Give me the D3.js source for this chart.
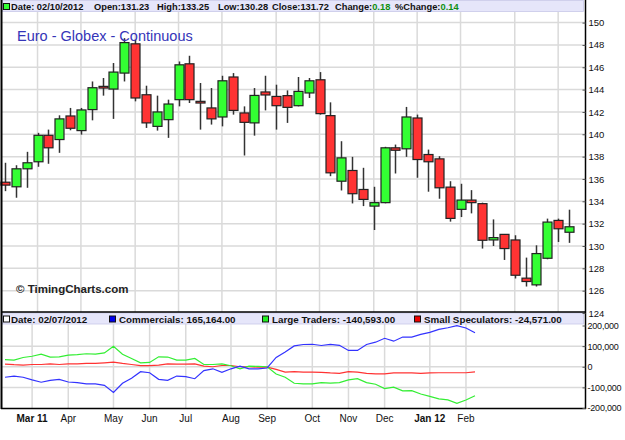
<!DOCTYPE html>
<html>
<head>
<meta charset="utf-8">
<script src="https://cdn.jsdelivr.net/npm/d3@7"></script>
<style>
  body { margin: 0; background: #fff; }
  text { font-family: Arial, "Liberation Sans", sans-serif; }
</style>
</head>
<body>
<svg id="chart" width="625" height="440"></svg>
<script>
// weekly candles, week ending Fri 02/11/2011 .. Fri 02/10/2012
var weeks = d3.timeFriday.range(new Date(2011, 1, 11), new Date(2012, 1, 11));

var openP  = [135.71,135.30,136.91,137.54,139.91,139.53,141.64,140.33,142.21,144.29,144.05,145.48,148.10,143.54,140.71,141.31,143.10,146.31,142.95,142.36,141.55,145.13,141.91,141.02,143.79,143.39,143.46,142.56,143.70,144.88,141.67,135.80,136.76,135.06,133.57,133.88,138.79,138.70,141.46,138.19,137.80,135.27,133.28,134.11,133.79,130.54,131.04,130.54,127.12,126.52,128.90,132.29,131.23];
var highP  = [137.45,137.23,138.43,140.13,140.42,141.70,142.36,142.36,144.73,145.04,146.38,148.61,148.46,144.35,143.46,143.10,146.52,147.03,144.59,144.14,145.24,145.48,142.50,144.14,145.24,144.44,143.93,145.13,145.04,145.57,142.86,139.38,137.98,137.00,135.30,138.88,139.08,142.45,141.76,138.63,138.04,135.80,135.57,135.00,133.88,132.38,131.04,130.96,128.96,130.06,132.45,132.45,133.25];
var lowP   = [134.91,134.32,135.21,137.09,137.36,138.34,140.36,139.97,141.25,143.46,141.38,144.73,142.95,140.57,140.33,139.68,142.50,142.80,140.42,140.87,140.71,141.76,138.10,139.88,142.14,140.42,141.02,142.50,143.25,141.76,136.25,134.97,133.81,133.57,131.43,133.82,136.49,137.98,136.11,134.86,134.23,132.18,132.59,132.92,129.77,130.00,128.75,127.09,126.37,126.37,128.81,130.36,130.28];
var closeP = [135.45,136.91,137.45,139.91,138.79,141.38,140.54,142.18,144.17,144.14,145.57,148.21,143.25,141.02,142.00,142.71,146.22,143.10,142.80,141.38,144.79,142.14,141.07,143.48,143.52,142.56,142.41,143.84,144.79,141.85,136.55,137.89,134.68,134.17,133.88,138.79,138.57,141.55,137.74,137.54,135.21,132.47,134.11,133.88,130.51,130.75,129.77,127.38,126.82,129.32,132.14,131.54,131.72];

// COT net positions (contracts)
var commercials = [-51000,-45000,-51000,-64000,-75000,-66000,-61000,-74000,-77000,-83000,-83000,-90000,-125000,-80000,-56000,-24000,-29000,-61000,-66000,-45000,-48000,-58000,-19000,-10000,-27000,-10000,3000,-10000,-10000,-6000,45000,72000,101000,108000,109000,103000,108000,104000,79000,79000,108000,119000,138000,124000,144000,144000,157000,167000,181000,189000,199000,188000,165164];
var largeTraders = [35000,32000,45000,51000,61000,47000,48000,56000,59000,63000,61000,67000,99000,61000,40000,19000,21000,48000,47000,32000,32000,40000,11000,11000,14000,5000,-10000,3000,2000,0,-35000,-51000,-80000,-83000,-83000,-77000,-79000,-77000,-64000,-58000,-77000,-85000,-106000,-99000,-117000,-116000,-132000,-144000,-156000,-161000,-177000,-161000,-140593];
var smallSpecs = [13000,10000,8000,11000,11000,14000,11000,14000,14000,16000,16000,19000,22000,16000,11000,5000,5000,8000,14000,13000,13000,14000,3000,0,6000,6000,0,0,-2000,-2000,-13000,-26000,-24000,-26000,-26000,-27000,-30000,-32000,-24000,-26000,-32000,-35000,-35000,-30000,-30000,-30000,-32000,-30000,-29000,-29000,-29000,-29000,-24571];

var monthLabels = ['Mar 11','Apr','May','Jun','Jul','Aug','Sep','Oct','Nov','Dec','Jan 12','Feb'];
var priceTicks = [124,126,128,130,132,134,136,138,140,142,144,146,148,150];
var cotTicks = [-200000,-100000,0,100000,200000];

var svg = d3.select('#chart');
var L = 2, R = 585;

// month boundaries: first week whose Friday falls in a new month
var monthIdx = [];
weeks.forEach(function (d, i) {
  if (i > 0 && d.getMonth() !== weeks[i - 1].getMonth()) monthIdx.push(i);
});

var x = d3.scaleLinear().domain([0, weeks.length - 1]).range([5, 569]);
var x2 = d3.scaleLinear().domain([0, weeks.length - 1]).range([5, 475]);
var y = d3.scaleLinear().domain([124, 150]).range([313, 22.6]);
var y2 = d3.scaleLinear().domain([-200000, 200000]).range([408, 325.5]);

var grid = '#dadada';

// ---- upper panel grid
var up = svg.append('g');
up.selectAll('.hg').data(priceTicks).enter().append('line')
  .attr('x1', L).attr('x2', R)
  .attr('y1', function (d) { return y(d); }).attr('y2', function (d) { return y(d); })
  .attr('stroke', grid).attr('stroke-width', 1.5);
up.selectAll('.vg').data(monthIdx).enter().append('line')
  .attr('x1', function (d) { return x(d); }).attr('x2', function (d) { return x(d); })
  .attr('y1', 12).attr('y2', 312)
  .attr('stroke', grid).attr('stroke-width', 1.5);

// ---- lower panel grid
var lo = svg.append('g');
lo.selectAll('.hg').data(cotTicks.slice(1, 4)).enter().append('line')
  .attr('x1', L).attr('x2', R)
  .attr('y1', function (d) { return y2(d); }).attr('y2', function (d) { return y2(d); })
  .attr('stroke', grid).attr('stroke-width', 1.5);
lo.selectAll('.vg').data(monthIdx).enter().append('line')
  .attr('x1', function (d) { return x2(d); }).attr('x2', function (d) { return x2(d); })
  .attr('y1', 324).attr('y2', 408)
  .attr('stroke', grid).attr('stroke-width', 1.5);

// ---- candles
var candles = svg.append('g').selectAll('g').data(weeks).enter().append('g');
candles.append('line')
  .attr('x1', function (d, i) { return Math.round(x(i)) + 0.5; })
  .attr('x2', function (d, i) { return Math.round(x(i)) + 0.5; })
  .attr('y1', function (d, i) { return y(highP[i]); })
  .attr('y2', function (d, i) { return y(lowP[i]); })
  .attr('stroke', '#333').attr('stroke-width', 1.5);
candles.append('rect')
  .attr('x', function (d, i) { return Math.round(x(i)) - 4; })
  .attr('width', 9)
  .attr('y', function (d, i) { return y(Math.max(openP[i], closeP[i])); })
  .attr('height', function (d, i) { return Math.max(1.5, Math.abs(y(openP[i]) - y(closeP[i]))); })
  .attr('fill', function (d, i) { return closeP[i] >= openP[i] ? '#33ff33' : '#ff3333'; })
  .attr('stroke', '#222').attr('stroke-width', 1.2);

// ---- COT lines
var series = [
  { v: smallSpecs, c: '#ff3333' },
  { v: largeTraders, c: '#33ee33' },
  { v: commercials, c: '#3333ff' }
];
var line = d3.line().x(function (d, i) { return x2(i); }).y(function (d) { return y2(d); });
svg.append('g').selectAll('path').data(series).enter().append('path')
  .attr('d', function (s) { return line(s.v); })
  .attr('fill', 'none').attr('stroke', function (s) { return s.c; }).attr('stroke-width', 1.2);

// ---- header bars
function headerBar(y0) {
  svg.append('rect').attr('x', L + 0.5).attr('y', y0).attr('width', R - L - 2).attr('height', 11)
    .attr('fill', '#e6e6fa').attr('stroke', '#c8c8e8').attr('stroke-width', 0.8);
}
headerBar(0.5);
headerBar(313);

function swatch(xp, yp, fill) {
  svg.append('rect').attr('x', xp).attr('y', yp).attr('width', 6).attr('height', 6)
    .attr('fill', fill).attr('stroke', '#111').attr('stroke-width', 1);
}
function label(xp, yp, str, size) {
  return svg.append('text').attr('x', xp).attr('y', yp).attr('font-size', size || 9.8).attr('font-weight', 'bold')
    .attr('fill', '#111').text(str);
}

swatch(3.5, 3.5, '#33ff33');
label(11, 10, 'Date: 02/10/2012', 9.3);
label(94, 10, 'Open:131.23', 9.3);
label(157, 10, 'High:133.25', 9.3);
label(218, 10, 'Low:130.28', 9.3);
label(272, 10, 'Close:131.72', 9.3);
var ch = label(335, 10, 'Change:', 9.3);
ch.append('tspan').attr('fill', '#109010').text('0.18');
var pc = label(395, 10, '%Change:', 9.3);
pc.append('tspan').attr('fill', '#109010').text('0.14');

swatch(3.5, 316, '#fff');
label(11, 322.5, 'Date: 02/07/2012');
swatch(109.5, 316, '#0000ee');
label(119, 322.5, 'Commercials: 165,164.00');
swatch(262.5, 316, '#22ee22');
label(272, 322.5, 'Large Traders: -140,593.00');
swatch(414.5, 316, '#ee0000');
label(424, 322.5, 'Small Speculators: -24,571.00');

// ---- titles
svg.append('text').attr('x', 17).attr('y', 41).attr('font-size', 14.5).attr('fill', '#3434b8')
  .text('Euro - Globex - Continuous');
svg.append('text').attr('x', 16).attr('y', 293).attr('font-size', 11.5).attr('font-weight', 'bold')
  .attr('fill', '#222').text('\u00a9 TimingCharts.com');

// ---- frame
svg.append('line').attr('x1', 1.5).attr('x2', 1.5).attr('y1', 0).attr('y2', 409).attr('stroke', '#000').attr('stroke-width', 2);
svg.append('line').attr('x1', R + 0.5).attr('x2', R + 0.5).attr('y1', 0).attr('y2', 409).attr('stroke', '#000').attr('stroke-width', 1.5);
svg.append('line').attr('x1', 1).attr('x2', R + 1).attr('y1', 312).attr('y2', 312).attr('stroke', '#000').attr('stroke-width', 1.5);
svg.append('line').attr('x1', 1).attr('x2', R + 1).attr('y1', 408.5).attr('y2', 408.5).attr('stroke', '#000').attr('stroke-width', 1.5);

// ---- axes
var yAxis = d3.axisRight(y).tickValues(priceTicks).tickSizeInner(-3).tickSizeOuter(0).tickPadding(3);
var ga = svg.append('g').attr('transform', 'translate(' + (R + 0.5) + ',0)').call(yAxis);
var fmt = d3.format(',');
var y2Axis = d3.axisRight(y2).tickValues(cotTicks).tickSizeInner(-3).tickSizeOuter(0).tickPadding(2)
  .tickFormat(function (d) { return fmt(d).replace('\u2212', '-'); });
var gb = svg.append('g').attr('transform', 'translate(' + (R + 0.5) + ',0)').call(y2Axis);
[ga, gb].forEach(function (g) {
  g.select('.domain').remove();
  g.selectAll('.tick line').attr('stroke', '#555');
  g.selectAll('.tick text').attr('font-size', 9.5).attr('fill', '#111')
    .attr('font-family', 'Arial, "Liberation Sans", sans-serif');
});
gb.selectAll('.tick text').attr('font-size', 9).attr('letter-spacing', -0.2);

// month labels under the lower panel
svg.append('g').selectAll('text').data(monthIdx).enter().append('text')
  .attr('x', function (d) { return x2(d); }).attr('y', 422)
  .attr('text-anchor', 'middle').attr('font-size', 10)
  .attr('font-weight', function (d, i) { return monthLabels[i].indexOf(' ') > 0 ? 'bold' : 'normal'; })
  .attr('fill', '#111')
  .text(function (d, i) { return monthLabels[i]; });
</script>
</body>
</html>
